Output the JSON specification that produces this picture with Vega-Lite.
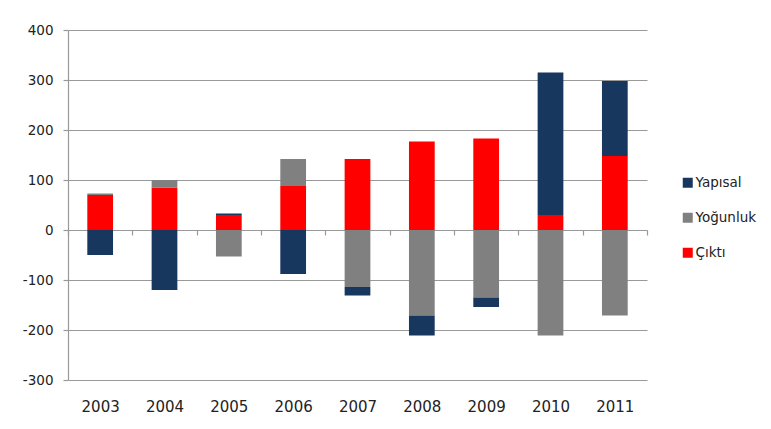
{
  "$schema": "https://vega.github.io/schema/vega-lite/v6.json",
  "width": 579,
  "height": 350,
  "autosize": {"type": "none"},
  "padding": {"left": 68, "top": 30, "right": 124, "bottom": 49},
  "background": "white",
  "config": {
    "view": {"stroke": null},
    "font": "DejaVu Sans"
  },
  "data": {
    "values": [
      {"yil": "2003", "seri": "Çıktı", "deger": 70, "sira": 1},
      {"yil": "2003", "seri": "Yoğunluk", "deger": 3, "sira": 2},
      {"yil": "2003", "seri": "Yapısal", "deger": -50, "sira": 3},
      {"yil": "2004", "seri": "Çıktı", "deger": 85, "sira": 1},
      {"yil": "2004", "seri": "Yoğunluk", "deger": 15, "sira": 2},
      {"yil": "2004", "seri": "Yapısal", "deger": -120, "sira": 3},
      {"yil": "2005", "seri": "Çıktı", "deger": 30, "sira": 1},
      {"yil": "2005", "seri": "Yoğunluk", "deger": -53, "sira": 2},
      {"yil": "2005", "seri": "Yapısal", "deger": 3, "sira": 3},
      {"yil": "2006", "seri": "Çıktı", "deger": 88, "sira": 1},
      {"yil": "2006", "seri": "Yoğunluk", "deger": 54, "sira": 2},
      {"yil": "2006", "seri": "Yapısal", "deger": -88, "sira": 3},
      {"yil": "2007", "seri": "Çıktı", "deger": 142, "sira": 1},
      {"yil": "2007", "seri": "Yoğunluk", "deger": -114, "sira": 2},
      {"yil": "2007", "seri": "Yapısal", "deger": -17, "sira": 3},
      {"yil": "2008", "seri": "Çıktı", "deger": 177, "sira": 1},
      {"yil": "2008", "seri": "Yoğunluk", "deger": -171, "sira": 2},
      {"yil": "2008", "seri": "Yapısal", "deger": -40, "sira": 3},
      {"yil": "2009", "seri": "Çıktı", "deger": 183, "sira": 1},
      {"yil": "2009", "seri": "Yoğunluk", "deger": -135, "sira": 2},
      {"yil": "2009", "seri": "Yapısal", "deger": -19, "sira": 3},
      {"yil": "2010", "seri": "Çıktı", "deger": 30, "sira": 1},
      {"yil": "2010", "seri": "Yoğunluk", "deger": -211, "sira": 2},
      {"yil": "2010", "seri": "Yapısal", "deger": 285, "sira": 3},
      {"yil": "2011", "seri": "Çıktı", "deger": 148, "sira": 1},
      {"yil": "2011", "seri": "Yoğunluk", "deger": -171, "sira": 2},
      {"yil": "2011", "seri": "Yapısal", "deger": 150, "sira": 3}
    ]
  },
  "mark": {"type": "bar", "width": {"band": 0.4}},
  "encoding": {
    "x": {
      "field": "yil",
      "type": "ordinal",
      "title": null,
      "scale": {"paddingInner": 0, "paddingOuter": 0},
      "axis": {
        "offset": -150,
        "domainColor": "#999999",
        "domainWidth": 1.2,
        "tickBand": "extent",
        "tickColor": "#999999",
        "tickSize": 5,
        "tickWidth": 1.2,
        "labelAngle": 0,
        "labelPadding": 164,
        "labelBaseline": "top",
        "labelFontSize": 15,
        "labelColor": "#222222"
      }
    },
    "y": {
      "field": "deger",
      "type": "quantitative",
      "stack": "zero",
      "title": null,
      "scale": {"domain": [-300, 400], "nice": false},
      "axis": {
        "values": [-300, -200, -100, 0, 100, 200, 300, 400],
        "labelExpr": "'' + datum.value",
        "domainColor": "#999999",
        "domainWidth": 1.2,
        "tickColor": "#999999",
        "tickSize": 5,
        "tickWidth": 1.2,
        "gridColor": "#999999",
        "gridWidth": 1.2,
        "gridOpacity": 1,
        "labelPadding": 10,
        "labelFontSize": 13.5,
        "labelColor": "#222222"
      }
    },
    "color": {
      "field": "seri",
      "type": "nominal",
      "scale": {
        "domain": ["Yapısal", "Yoğunluk", "Çıktı"],
        "range": ["#17375E", "#808080", "#FF0000"]
      },
      "legend": {
        "title": null,
        "orient": "none",
        "legendX": 613,
        "legendY": 146,
        "padding": 0,
        "symbolType": "square",
        "symbolSize": 100,
        "symbolStrokeWidth": 0,
        "labelOffset": 1,
        "labelFontSize": 13.5,
        "labelColor": "#222222",
        "rowPadding": 20
      }
    },
    "order": {"field": "sira", "type": "quantitative", "sort": "ascending"}
  }
}
